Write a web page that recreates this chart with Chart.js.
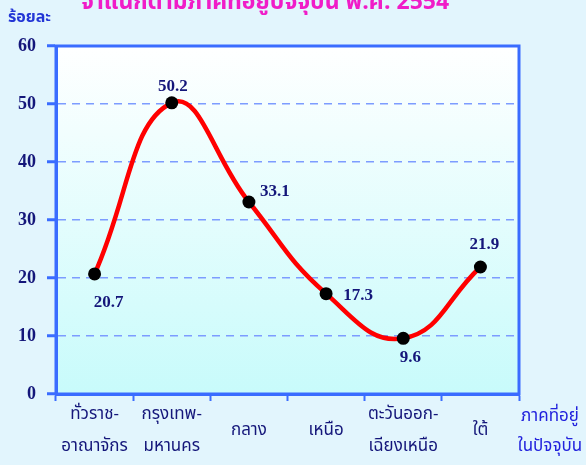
<!DOCTYPE html>
<html>
<head>
<meta charset="utf-8">
<script src="https://cdn.jsdelivr.net/npm/chart.js@4.4.0/dist/chart.umd.min.js"></script>
<style>
  html, body { margin: 0; padding: 0; background: #e2f5fd; }
  #wrap { width: 586px; height: 465px; position: relative; }
</style>
</head>
<body>
<div id="wrap"><canvas id="regionChart" width="586" height="465"></canvas></div>
<script>
// data
const regions = [
  ['ทั่วราช-', 'อาณาจักร'],
  ['กรุงเทพ-', 'มหานคร'],
  'กลาง',
  'เหนือ',
  ['ตะวันออก-', 'เฉียงเหนือ'],
  'ใต้'
];
const percent = [20.7, 50.2, 33.1, 17.3, 9.6, 21.9];
const yTicks = [0, 10, 20, 30, 40, 50, 60];

const titleText = 'จำแนกตามภาคที่อยู่ปัจจุบัน พ.ศ. 2554';
const yUnit = 'ร้อยละ';
const xTitle = ['ภาคที่อยู่', 'ในปัจจุบัน'];

const NAVY = '#14167a';
const AXIS_BLUE = '#3a6cff';
const THAI_FONT = 'Tahoma, "Noto Sans Thai", "Noto Sans", sans-serif';
const NUM_FONT = '"Liberation Serif", "Times New Roman", serif';

// where each value label sits relative to its point (dx, dy)
const labelOffsets = [[14, 29], [1, -16], [26, -10], [32, 2], [7, 19], [4, -22]];

const decorPlugin = {
  id: 'decor',
  beforeDraw(chart) {
    const { ctx, chartArea: a } = chart;
    const g = ctx.createLinearGradient(0, a.top, 0, a.bottom);
    g.addColorStop(0, '#ffffff');
    g.addColorStop(1, '#c8fbfb');
    ctx.save();
    ctx.fillStyle = g;
    ctx.fillRect(a.left, a.top, a.right - a.left, a.bottom - a.top);
    ctx.restore();
  },
  afterDraw(chart) {
    const { ctx, chartArea: a } = chart;
    ctx.save();
    // frame
    ctx.strokeStyle = AXIS_BLUE;
    ctx.lineWidth = 3;
    ctx.strokeRect(a.left, a.top, a.right - a.left, a.bottom - a.top);

    // title (cut off at the top as in the picture)
    ctx.fillStyle = '#f01cc8';
    ctx.font = 'bold 23px ' + THAI_FONT;
    ctx.textAlign = 'center';
    ctx.textBaseline = 'alphabetic';
    ctx.fillText(titleText, 265, 9);

    // unit label
    ctx.fillStyle = '#2336d6';
    ctx.font = 'bold 16px ' + THAI_FONT;
    ctx.textAlign = 'left';
    ctx.textBaseline = 'middle';
    ctx.fillText(yUnit, 8, 19);

    // x axis title
    ctx.fillStyle = '#2222dd';
    ctx.font = '17px ' + THAI_FONT;
    ctx.textAlign = 'center';
    ctx.fillText(xTitle[0], 550, 418);
    ctx.fillText(xTitle[1], 550, 448);

    // value labels
    const meta = chart.getDatasetMeta(0);
    ctx.fillStyle = NAVY;
    ctx.font = 'bold 17px ' + NUM_FONT;
    meta.data.forEach((pt, i) => {
      const [dx, dy] = labelOffsets[i];
      ctx.fillText(percent[i].toFixed(1), pt.x + dx, pt.y + dy);
    });
    ctx.restore();
  }
};

new Chart(document.getElementById('regionChart'), {
  type: 'line',
  data: {
    labels: regions,
    datasets: [{
      data: percent,
      borderColor: '#ff0000',
      borderWidth: 4.5,
      tension: 0.45,
      pointRadius: 6.5,
      pointBackgroundColor: '#000000',
      pointBorderColor: '#000000',
      pointBorderWidth: 0
    }]
  },
  options: {
    responsive: false,
    animation: false,
    events: [],
    layout: { padding: { top: 46, right: 67, left: 0, bottom: 0 } },
    plugins: { legend: { display: false }, tooltip: { enabled: false } },
    scales: {
      x: {
        offset: true,
        afterFit(s) { s.height = 71; },
        grid: {
          offset: true,
          drawOnChartArea: false,
          color: AXIS_BLUE,
          tickColor: AXIS_BLUE,
          tickWidth: 2,
          tickLength: 7
        },
        border: { color: AXIS_BLUE, width: 3 },
        ticks: {
          color: NAVY,
          font: { family: THAI_FONT, size: 17, lineHeight: 1.85 },
          padding: 15,
          maxRotation: 0,
          autoSkip: false,
          crossAlign: 'center'
        }
      },
      y: {
        min: 0,
        max: 60,
        afterFit(s) { s.width = 56; },
        afterBuildTicks(s) { s.ticks = yTicks.map(v => ({ value: v })); },
        grid: {
          color: ctx => (ctx.tick && (ctx.tick.value === 0 || ctx.tick.value === 60)) ? 'rgba(0,0,0,0)' : '#7d9cff',
          lineWidth: 1.5,
          tickColor: AXIS_BLUE,
          tickWidth: 3,
          tickLength: 9
        },
        border: { color: AXIS_BLUE, width: 3, dash: [8, 6] },
        ticks: {
          color: NAVY,
          font: { family: NUM_FONT, size: 18, weight: 'bold' },
          padding: 11
        }
      }
    }
  },
  plugins: [decorPlugin]
});
</script>
</body>
</html>
